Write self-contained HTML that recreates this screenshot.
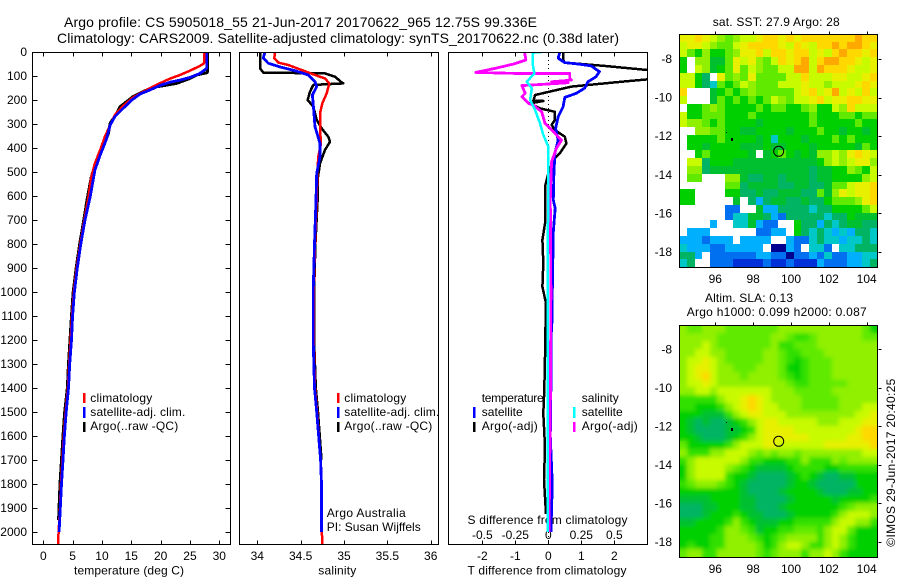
<!DOCTYPE html>
<html><head><meta charset="utf-8"><title>Argo profile</title>
<style>
html,body{margin:0;padding:0;background:#fff;width:900px;height:580px;overflow:hidden}
svg{display:block}
text{font-family:"Liberation Sans",sans-serif;font-size:12px;fill:#000}
.t{font-size:14px}
.frame{fill:none;stroke:#000;stroke-width:1;shape-rendering:crispEdges}
.sw{stroke-width:2.5;shape-rendering:crispEdges}
</style></head><body>
<svg id="root" xmlns="http://www.w3.org/2000/svg" xmlns:xlink="http://www.w3.org/1999/xlink" width="900" height="580" viewBox="0 0 900 580">
<defs>
<clipPath id="clip-t"><rect x="32.5" y="52.5" width="198" height="492"/></clipPath>
<clipPath id="clip-s"><rect x="239.5" y="52.5" width="199" height="492"/></clipPath>
<clipPath id="clip-d"><rect x="448.5" y="52.5" width="199" height="492"/></clipPath>
<clipPath id="clip-sla"><rect x="679.5" y="325.5" width="198" height="232"/></clipPath>
<filter id="soft" x="-5%" y="-5%" width="110%" height="110%"><feGaussianBlur stdDeviation="2.2"/></filter>
</defs>
<rect width="900" height="580" fill="#fff"/>
<text class="t" x="64" y="27" textLength="473">Argo profile: CS 5905018_55 21-Jun-2017 20170622_965 12.75S 99.336E</text>
<text class="t" x="57" y="43" textLength="562">Climatology: CARS2009. Satellite-adjusted climatology: synTS_20170622.nc (0.38d later)</text>

<g id="g-sst"></g>
<g id="g-sla"></g>
<g clip-path="url(#clip-sla)"><use href="#g-sla" filter="url(#soft)"/></g>
<g id="g-ticks"></g>

<g>
<line class="sw" x1="84" x2="84" y1="393" y2="403" stroke="#f00"/>
<line class="sw" x1="84" x2="84" y1="407" y2="418" stroke="#00f"/>
<line class="sw" x1="84" x2="84" y1="422" y2="432" stroke="#000"/>
<text x="90.3" y="402" textLength="62">climatology</text>
<text x="90.3" y="416" textLength="95">satellite-adj. clim.</text>
<text x="90.3" y="430" textLength="88">Argo(..raw -QC)</text>
</g>
<g>
<line class="sw" x1="338" x2="338" y1="393" y2="403" stroke="#f00"/>
<line class="sw" x1="338" x2="338" y1="407" y2="418" stroke="#00f"/>
<line class="sw" x1="338" x2="338" y1="422" y2="432" stroke="#000"/>
<text x="344.3" y="402" textLength="62">climatology</text>
<text x="344.3" y="416" textLength="95">satellite-adj. clim.</text>
<text x="344.3" y="430" textLength="88">Argo(..raw -QC)</text>
<text x="326.7" y="517" textLength="79">Argo Australia</text>
<text x="326.7" y="531" textLength="94">PI: Susan Wijffels</text>
</g>
<g>
<line class="sw" x1="474" x2="474" y1="407" y2="418" stroke="#00f"/>
<line class="sw" x1="474" x2="474" y1="422" y2="432" stroke="#000"/>
<line class="sw" x1="574" x2="574" y1="407" y2="418" stroke="#0ff"/>
<line class="sw" x1="574" x2="574" y1="422" y2="432" stroke="#f0f"/>
<text x="481.7" y="402" textLength="62">temperature</text>
<text x="481.7" y="416" textLength="41">satellite</text>
<text x="481.7" y="430" textLength="56">Argo(-adj)</text>
<text x="581.7" y="402" textLength="37">salinity</text>
<text x="581.7" y="416" textLength="41">satellite</text>
<text x="581.7" y="430" textLength="56">Argo(-adj)</text>
<text x="467.5" y="524" textLength="160">S difference from climatology</text>
</g>
<line x1="548.5" x2="548.5" y1="52" y2="545" stroke="#000" stroke-width="1" stroke-dasharray="1 3" shape-rendering="crispEdges"/>

<g id="g-lines"></g>

<rect class="frame" x="32.5" y="52.5" width="198" height="492"/>
<rect class="frame" x="239.5" y="52.5" width="199" height="492"/>
<rect class="frame" x="448.5" y="52.5" width="199" height="492"/>
<rect class="frame" x="679.5" y="34.5" width="198" height="233"/>
<rect class="frame" x="679.5" y="325.5" width="198" height="232"/>

<text x="74" y="574.5" textLength="110">temperature (deg C)</text>
<text x="318.3" y="574.5" textLength="38">salinity</text>
<text x="467.5" y="574.5" textLength="159">T difference from climatology</text>

<text x="712.7" y="26" textLength="127">sat. SST: 27.9 Argo: 28</text>
<text x="705" y="302" textLength="88">Altim. SLA: 0.13</text>
<text x="686.7" y="316" textLength="180">Argo h1000: 0.099 h2000: 0.087</text>

<circle cx="778.7" cy="151.3" r="5" fill="none" stroke="#000" stroke-width="1"/>
<circle cx="778.7" cy="441.3" r="5" fill="none" stroke="#000" stroke-width="1"/>
<rect x="731" y="138" width="2" height="3" fill="#000"/>
<rect x="726" y="132" width="1" height="1" fill="#000"/>
<rect x="731" y="428" width="2" height="3" fill="#000"/>
<rect x="726" y="422" width="1" height="1" fill="#000"/>

<text transform="translate(895,546.7) rotate(-90)" textLength="168">©IMOS 29-Jun-2017 20:40:25</text>
</svg>
<script>
// Tick labels
const depthTicks = [0,100,200,300,400,500,600,700,800,900,1000,1100,1200,1300,1400,1500,1600,1700,1800,1900,2000];
const tempTicks = [0,5,10,15,20,25,30];
const salTicks = [34,34.5,35,35.5,36];
const tDiffTicks = [-2,-1,0,1,2];
const sDiffTicks = [-0.5,-0.25,0,0.25,0.5];
const sDiffLabels = ['-0.5','-0.25','0','0.25','0.5'];
const lonTicks = [96,98,100,102,104];
const latTicks = [-8,-10,-12,-14,-16,-18];

// Temperature profiles
const tClimDepth = [0,47,58,78,96,111,130,151,172,193,225,262,304,353,408,464,519,603,700,800,900,1000,1100,1200,1300,1400,1500,1600,1700,1800,1900,2000,2054];
const tClimVal = [27.4,27.4,26.7,25,23.3,21.6,19.9,18.2,16.5,15.1,13.6,12.2,11.4,10.5,9.7,8.8,8.2,7.7,7.0,6.3,5.7,5.2,4.9,4.65,4.4,4.2,3.8,3.5,3.25,3.0,2.85,2.6,2.5];
const tSatDepth = [0,68,89,106,117,126,139,158,175,200,235,269,304,367,429,492,603,700,800,900,1000,1100,1200,1300,1400,1500,1600,1700,1800,1900,2000];
const tSatVal = [27.85,27.85,26.7,25,23.3,21.6,19.9,18.2,16.5,15.1,13.6,12.2,11.4,10.7,9.7,8.8,8.0,7.1,6.4,5.8,5.3,5.0,4.8,4.5,4.3,3.9,3.6,3.35,3.1,2.9,2.7];
const tArgoDepth = [0,86,96,110,131,140,147,165,186,207,228,256,297,339,394,450,519,610,700,800,900,1000,1100,1200,1300,1400,1500,1600,1700,1800,1950];
const tArgoVal = [27.95,27.95,26.1,25,22.7,20.5,18.75,17,15.3,14.2,13.1,12.5,11.4,11.1,10.2,9.1,8.2,7.5,6.9,6.2,5.6,5.1,4.8,4.55,4.3,4.1,3.65,3.35,3.1,2.85,2.6];

// Salinity profiles
const sClimDepth = [0,26,44,54,75,96,110,131,172,214,256,325,381,436,506,617,800,1000,1200,1400,1500,1700,1800,2000,2054];
const sClimVal = [34.204,34.196,34.242,34.358,34.512,34.665,34.781,34.831,34.8,34.75,34.723,34.723,34.735,34.704,34.692,34.685,34.665,34.65,34.65,34.665,34.69,34.73,34.74,34.745,34.75];
const sSatDepth = [0,26,47,64,78,96,124,144,179,242,311,381,436,506,617,800,1000,1200,1400,1500,1700,1800,2000];
const sSatVal = [34.088,34.069,34.127,34.281,34.435,34.588,34.665,34.685,34.635,34.65,34.665,34.723,34.723,34.685,34.677,34.66,34.645,34.645,34.66,34.685,34.73,34.74,34.74];
const sArgoDepth = [0,68,86,89,103,124,131,137,165,200,228,283,318,353,374,408,464,533,617,800,1000,1200,1400,1500,1700];
const sArgoVal = [34.031,34.031,34.069,34.781,34.896,34.965,34.992,34.646,34.608,34.581,34.646,34.685,34.742,34.819,34.838,34.781,34.723,34.696,34.696,34.67,34.655,34.655,34.675,34.7,34.74];

// Difference profiles
const dTSatDepth = [0,26,44,50,58,82,103,124,151,172,189,228,269,318,367,422,506,617,650,750,1000,1100,1200,1400,1600,1800,1900,2000];
const dTSatVal = [0.35,0.30,0.50,0.90,1.30,1.55,1.45,1.20,1.10,0.85,0.50,0.45,0.30,0.22,0.30,0.20,0.17,0.15,0.21,0.15,0.12,0.12,0.08,0.08,0.06,0.12,0.10,0.08];
const dTArgoDepth = [0,33,44,58,75,86,103,114,124,144,179,203,204,214,235,249,283,304,325,353,381,422,450,506,561,617,714,783,880,978,1047,1130,1186,1270,1408,1505,1644,1783,1925];
const dTArgoVal = [0.45,0.45,0.5,1.7,3,3.9,3.9,3,2.2,0.70,-0.40,-0.45,-0.15,-0.55,-0.25,0.20,0.20,0.10,0.20,0.50,0.55,0.35,0.15,0,-0.10,-0.10,-0.10,-0.18,-0.15,-0.18,-0.07,-0.08,-0.10,-0.10,-0.12,-0.15,-0.10,-0.13,-0.07];
const dSSatDepth = [0,3,47,89,124,151,200,242,297,346,394,506,1000,2000];
const dSSatVal = [-0.05,-0.12,-0.12,-0.105,-0.1625,-0.125,-0.1375,-0.10,-0.0625,-0.0375,0,0,-0.005,-0.005];
const dSArgoDepth = [0,33,50,68,85,89,89,110,117,124,128,133,140,172,186,214,221,249,297,325,367,401,457,533,617,1000,1500,2000];
const dSArgoVal = [-0.18,-0.17,-0.2625,-0.40,-0.55,-0.25,0.1625,0.1625,0.175,0.025,0.15,0.0125,-0.20,-0.175,-0.20,-0.15,-0.1125,-0.05,-0.025,0.025,0.10,0.0625,0.025,0.02,0.015,0.02,0.015,0.005];

// Map colour levels: 0 navy ... 14 orange, -1 = no data
const levelColors = ['#000090','#0030d8','#0070f0','#00b0ff','#00c8c8','#00b464','#00c030','#00d000','#30e000','#60ea00','#90f000','#c8fa00','#e8f000','#ffd800','#ffa800'];
const sstGrid = [
[12,12,13,12,11,10,9,10,11,11,12,13,13,12,13,12,13,13,13,13,13,13,13,14,13,13],
[11,12,12,11,10,9,9,11,12,13,13,13,13,12,11,13,12,11,13,13,14,13,14,14,13,12],
[11,9,7,10,7,7,9,10,12,12,13,11,13,13,12,13,13,11,12,11,13,14,13,13,12,13],
[7,-1,10,10,6,6,9,12,11,12,10,9,11,13,12,13,14,11,13,14,14,13,13,12,11,12],
[7,-1,11,10,6,7,9,12,9,11,10,9,9,11,11,14,14,11,14,13,13,13,12,11,11,12],
[11,11,7,5,-1,12,9,10,9,12,9,9,9,9,11,11,13,11,11,11,12,12,11,11,12,13],
[11,11,7,5,4,9,7,9,11,10,9,9,9,11,11,11,12,11,11,10,11,11,11,12,13,12],
[13,-1,-1,-1,6,7,9,7,9,10,9,9,9,9,9,11,12,13,11,12,14,11,12,11,13,11],
[11,-1,-1,-1,6,9,7,9,7,9,7,9,11,10,9,11,11,12,13,11,12,12,13,13,12,12],
[-1,7,7,9,10,9,7,7,7,7,9,7,9,9,7,7,9,10,7,7,11,10,13,11,11,11],
[11,7,7,9,9,9,7,7,7,9,7,7,7,7,7,7,7,9,7,7,7,9,9,7,9,9],
[11,10,10,9,7,9,7,7,7,7,6,7,7,7,7,7,7,9,7,7,7,7,7,9,7,7],
[-1,-1,10,10,9,9,7,7,6,6,7,7,7,7,6,7,7,7,9,7,7,6,7,7,6,7],
[-1,7,7,7,7,9,7,7,7,7,6,7,4,7,7,7,6,7,7,7,9,7,9,7,7,7],
[-1,7,7,6,7,7,7,7,6,6,6,7,6,6,7,7,7,6,7,7,7,7,7,6,9,7],
[-1,-1,7,9,7,7,7,7,7,6,-1,6,7,9,7,6,7,6,10,10,11,10,12,13,12,11],
[-1,11,11,5,7,7,7,6,6,6,6,6,6,6,6,6,6,6,7,10,11,10,11,12,12,10],
[-1,10,10,5,6,6,6,6,6,6,6,6,6,6,6,6,6,5,6,6,7,7,10,9,7,11],
[-1,9,9,-1,-1,-1,10,10,6,5,5,6,6,5,6,6,6,5,6,6,7,7,7,7,10,11],
[-1,-1,-1,-1,-1,-1,9,9,5,6,6,6,6,5,5,6,6,5,5,6,9,9,11,12,12,13],
[7,7,-1,-1,-1,-1,7,7,5,5,6,5,5,6,6,6,5,5,9,6,10,12,11,12,12,13],
[7,7,-1,-1,-1,-1,-1,6,-1,5,3,5,6,6,5,5,6,5,5,7,9,9,9,10,12,13],
[-1,-1,-1,-1,-1,-1,2,2,-1,-1,6,3,3,5,5,5,5,4,5,5,7,7,7,7,9,11],
[-1,-1,-1,-1,-1,-1,2,4,4,6,6,5,3,2,5,5,5,5,5,4,5,5,7,6,6,6],
[-1,-1,-1,-1,3,-1,-1,4,4,6,3,2,2,-1,-1,7,5,5,3,5,4,5,6,6,5,5],
[-1,3,3,3,-1,-1,-1,-1,-1,-1,2,2,3,3,-1,7,5,4,5,4,3,4,3,5,5,4],
[3,3,3,2,3,3,3,-1,3,3,3,3,-1,-1,3,2,2,4,5,4,4,3,4,4,5,4],
[4,3,3,3,2,2,3,3,3,3,3,-1,0,0,3,2,-1,4,4,2,-1,4,4,5,5,5],
[5,5,3,-1,2,2,2,2,2,2,3,3,2,2,0,2,2,3,2,4,2,2,3,3,4,4],
[4,5,-1,-1,2,2,2,1,1,1,1,2,1,1,2,1,1,1,3,2,2,2,3,3,4,5]
];
const slaGrid = [
[10,9,9,10,10,10,9,9,9,9,9,9,9,10,10,10,10,10,10,10,10,10,10,10,9,7],
[10,10,10,10,10,9,9,9,9,9,9,9,10,10,9,8,8,9,10,10,10,10,10,10,9,9],
[10,10,10,11,10,9,9,9,9,9,9,9,10,8,8,9,9,9,10,10,10,10,10,10,10,10],
[10,10,11,11,10,10,9,9,9,9,9,10,10,9,8,8,9,9,9,10,10,10,10,10,10,10],
[10,11,11,12,11,10,9,9,9,9,9,10,10,9,8,7,8,9,9,9,10,10,10,10,10,10],
[10,11,12,12,11,10,10,9,9,9,10,10,10,9,7,7,8,9,9,9,10,10,10,10,10,10],
[10,11,12,13,11,10,10,10,9,10,10,10,10,9,8,7,8,9,9,9,10,10,10,10,10,10],
[10,11,11,12,11,10,10,10,10,10,10,10,10,10,9,8,8,9,9,9,9,9,10,10,10,10],
[10,10,11,11,10,11,11,11,11,11,11,11,10,10,10,9,9,9,9,9,10,10,10,10,10,10],
[8,8,8,8,8,10,11,11,12,13,12,11,10,10,10,10,9,9,9,9,9,10,10,10,10,10],
[8,8,7,7,7,8,10,11,12,13,12,11,11,10,10,10,9,9,9,9,9,10,10,10,11,11],
[7,7,7,6,6,6,8,10,11,12,12,11,11,11,10,10,10,10,10,10,10,10,10,11,11,12],
[7,6,5,6,5,5,6,7,8,10,11,12,12,11,11,11,11,11,10,10,10,11,11,11,12,12],
[7,6,5,5,5,5,6,6,7,8,11,12,12,12,12,11,11,11,11,11,11,11,11,12,13,13],
[7,7,6,5,5,5,6,7,8,10,11,12,12,12,12,12,12,11,11,11,11,11,12,12,13,13],
[9,7,7,7,7,7,8,10,11,11,11,12,12,11,11,11,11,11,11,12,12,12,12,12,12,13],
[10,8,8,8,10,10,11,11,11,10,9,10,9,10,10,9,10,10,10,10,10,10,10,10,11,11],
[8,10,11,11,11,11,11,11,10,8,8,7,7,7,8,8,10,8,8,8,10,9,10,10,10,10],
[7,10,11,11,11,11,10,9,8,7,6,6,6,6,7,8,8,8,8,7,7,8,8,8,8,8],
[7,10,11,11,11,11,8,7,7,6,5,5,5,5,6,7,8,7,6,5,5,6,6,7,7,7],
[8,9,10,10,10,9,8,7,6,5,5,5,5,5,6,7,7,6,5,5,5,5,5,7,7,7],
[7,7,7,7,7,7,7,7,6,5,5,5,5,6,7,7,7,7,6,5,5,5,6,6,7,7],
[6,6,6,6,7,7,7,7,6,6,5,5,5,5,6,7,7,7,7,7,6,7,7,7,7,8],
[5,5,5,6,6,7,7,7,6,6,5,5,5,6,7,7,7,7,7,7,7,8,9,10,10,10],
[5,5,5,6,7,7,7,8,7,6,6,5,5,5,6,7,7,7,7,7,8,10,11,11,11,10],
[6,6,7,7,7,7,8,10,8,7,6,6,6,7,7,8,8,8,8,8,10,11,11,10,10,8],
[7,7,7,7,7,8,10,10,9,8,6,7,7,8,8,9,9,9,8,10,11,11,9,7,7,7],
[7,7,7,7,8,8,10,10,10,9,8,7,8,9,10,10,10,10,8,10,11,10,8,7,7,7],
[7,8,7,7,8,8,10,10,10,10,9,7,8,10,11,11,10,8,8,10,11,10,8,7,7,7],
[9,10,10,8,8,10,10,10,10,10,9,8,9,10,10,10,8,10,10,11,10,8,7,7,7,7]
];

const NS = 'http://www.w3.org/2000/svg';
// Axis functions
const depthY = d => 52 + d * 0.24;
const tempX = t => 43.3 + t * 5.867;
const salX = s => 257.3 + (s - 34) * 86.7;
const tDiffX = t => 548.3 + t * 33;
const sDiffX = s => 548.3 + s * 132;
const lonX = lon => 715.3 + (lon - 96) * 18.925;
const sstY = lat => 59 + (-8 - lat) * 19.3;
const slaY = lat => 349.3 + (-8 - lat) * 19.27;

const lineLayer = document.getElementById('g-lines');
const tickLayer = document.getElementById('g-ticks');

function drawProfile(name, clip, xFn, depths, values, color, width) {
  const p = document.createElementNS(NS, 'polyline');
  p.setAttribute('points', depths.map((d, i) => xFn(values[i]).toFixed(1) + ',' + depthY(d).toFixed(1)).join(' '));
  p.setAttribute('fill', 'none');
  p.setAttribute('stroke', color);
  p.setAttribute('stroke-width', width);
  p.setAttribute('stroke-linejoin', 'round');
  p.setAttribute('shape-rendering', 'crispEdges');
  p.setAttribute('clip-path', 'url(#' + clip + ')');
  
  
  lineLayer.appendChild(p);
}
drawProfile('temperature-argo-line', 'clip-t', tempX, tArgoDepth, tArgoVal, '#000', 3);
drawProfile('temperature-climatology-line', 'clip-t', tempX, tClimDepth, tClimVal, '#f00', 2.5);
drawProfile('temperature-satellite-line', 'clip-t', tempX, tSatDepth, tSatVal, '#00f', 2.8);
drawProfile('salinity-argo-line', 'clip-s', salX, sArgoDepth, sArgoVal, '#000', 2.5);
drawProfile('salinity-climatology-line', 'clip-s', salX, sClimDepth, sClimVal, '#f00', 2.5);
drawProfile('salinity-satellite-line', 'clip-s', salX, sSatDepth, sSatVal, '#00f', 2.8);
drawProfile('t-difference-argo-line', 'clip-d', tDiffX, dTArgoDepth, dTArgoVal, '#000', 2.5);
drawProfile('t-difference-satellite-line', 'clip-d', tDiffX, dTSatDepth, dTSatVal, '#00f', 2.8);
drawProfile('s-difference-argo-line', 'clip-d', sDiffX, dSArgoDepth, dSArgoVal, '#f0f', 2.8);
drawProfile('s-difference-satellite-line', 'clip-d', sDiffX, dSSatDepth, dSSatVal, '#0ff', 2.5);

function tick(name, x1, y1, x2, y2) {
  const l = document.createElementNS(NS, 'line');
  l.setAttribute('x1', Math.round(x1) + 0.5);
  l.setAttribute('x2', Math.round(x2) + 0.5);
  l.setAttribute('y1', Math.round(y1) + 0.5);
  l.setAttribute('y2', Math.round(y2) + 0.5);
  l.setAttribute('stroke', '#000');
  l.setAttribute('shape-rendering', 'crispEdges');
  
  
  tickLayer.appendChild(l);
}
function label(name, x, y, str, anchor) {
  const t = document.createElementNS(NS, 'text');
  t.setAttribute('x', x);
  t.setAttribute('y', y);
  t.setAttribute('text-anchor', anchor);
  t.textContent = str;
  
  
  tickLayer.appendChild(t);
}

depthTicks.forEach(d => {
  const y = depthY(d);
  tick('depth-tick-left', 32, y, 37, y);
  tick('depth-tick-right', 225, y, 230, y);
  label('depth-tick-label', 27, y + 4, String(d), 'end');
});
function xAxis(prefix, ticks, xFn, labels, labelY, top) {
  ticks.forEach((v, i) => {
    const x = xFn(v);
    if (top) tick(prefix + '-tick-top', x, 52, x, 56);
    tick(prefix + '-tick-bottom', x, 540, x, 544);
    label(prefix + '-tick-label', x, labelY, labels ? labels[i] : String(v), 'middle');
  });
}
xAxis('temperature', tempTicks, tempX, null, 560, true);
xAxis('salinity', salTicks, salX, null, 560, true);
xAxis('t-difference', tDiffTicks, tDiffX, null, 560, true);
sDiffLabels.forEach((s, i) => {
  label('s-difference-tick-label', sDiffX(sDiffTicks[i]), 539, s, 'middle');
});

function drawMap(layerId, grid, yFn, latTop, latBottom, frameTop, labelBase) {
  const layer = document.getElementById(layerId);
  const lonLeft = 94.1, lonRight = 104.57;
  const nR = grid.length, nC = grid[0].length;
  const dLon = (lonRight - lonLeft) / nC, dLat = (latTop - latBottom) / nR;
  grid.forEach((row, r) => {
    row.forEach((v, c) => {
      if (v < 0) return;
      const x0 = Math.round(lonX(lonLeft + c * dLon)), x1 = Math.round(lonX(lonLeft + (c + 1) * dLon));
      const y0 = Math.round(yFn(latTop - r * dLat)), y1 = Math.round(yFn(latTop - (r + 1) * dLat));
      const rect = document.createElementNS(NS, 'rect');
      rect.setAttribute('x', x0);
      rect.setAttribute('y', y0);
      rect.setAttribute('width', x1 - x0);
      rect.setAttribute('height', y1 - y0);
      rect.setAttribute('fill', levelColors[v]);
      rect.setAttribute('shape-rendering', 'crispEdges');
      
      
      layer.appendChild(rect);
    });
  });
  lonTicks.forEach(lon => {
    const x = lonX(lon);
    tick('longitude-tick-top', x, frameTop - 3, x, frameTop);
    label('longitude-tick-label', x, labelBase, String(lon), 'middle');
  });
  latTicks.forEach(lat => {
    const y = yFn(lat);
    tick('latitude-tick-right', 878, y, 881, y);
    label('latitude-tick-label', 672, y + 4, String(lat), 'end');
  });
}
drawMap('g-sst', sstGrid, sstY, -6.7, -18.78, 34, 283);
drawMap('g-sla', slaGrid, slaY, -6.775, -18.78, 325, 573);
</script>
</body></html>
